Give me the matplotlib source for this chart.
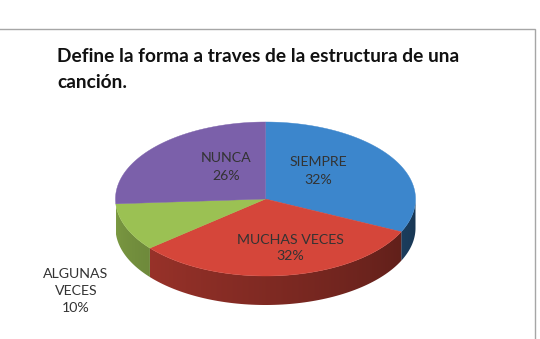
import matplotlib
matplotlib.use("Agg")
import matplotlib.pyplot as plt
import numpy as np
from matplotlib.patches import Polygon, Rectangle
from matplotlib.colors import to_rgb

# Data (clockwise from 12 o'clock)
categories = ["SIEMPRE", "MUCHAS VECES", "ALGUNAS\nVECES", "NUNCA"]
values = [32, 32, 10, 26]
colors = ["#3c86cc", "#d5463a", "#9bc153", "#7b60aa"]
title = "Define la forma a traves de la estructura de una\ncanción."

# Geometry of the 3D pie (pixel space)
CX, CY = 265.5, 199
A, B = 150, 77
DEPTH = 29

# label anchor points (pixel space)
label_pos = [(318, 171), (290, 248), (76, 291), (226, 167)]

fig = plt.figure(figsize=(5.4, 3.39), dpi=100)
ax = fig.add_axes([0, 0, 1, 1])
ax.set_xlim(0, 540)
ax.set_ylim(339, 0)
ax.axis("off")

# chart frame
ax.add_patch(Rectangle((-2, 29), 537, 320, fill=False, edgecolor="#a6a6a6", lw=1.0))

fig.text(57 / 540, 1 - 48 / 339, title, ha="left", va="top",
         fontsize=13.8, fontweight="bold", family="Lato", color="#111111",
         linespacing=1.65)


def pt(t, dy=0.0):
    r = np.radians(t)
    return CX + A * np.cos(r), CY - B * np.sin(r) + dy


total = float(sum(values))
starts = []
ang = 90.0
for v in values:
    span = 360.0 * v / total
    starts.append((ang, ang - span))
    ang -= span

# horizontal shading for the side wall: lighter at left front, darker to the right
xs = np.linspace(CX - A, CX + A, 400)
m = -np.degrees(np.arccos(np.clip((xs - CX) / A, -1, 1)))
shade = 0.40 + 0.40 * (-m / 180.0)

# sides first (front half only: angles between -180 and 0)
for (t0, t1), col in zip(starts, colors):
    base = np.array(to_rgb(col))
    lo, hi = min(t0, t1), max(t0, t1)
    for shift in (0, -360, 360):
        s0, s1 = max(lo + shift, -180), min(hi + shift, 0)
        if s1 <= s0:
            continue
        ts = np.linspace(s0, s1, 80)
        poly = [pt(t) for t in ts] + [pt(t, DEPTH) for t in ts[::-1]]
        patch = Polygon(poly, closed=True, facecolor="none", edgecolor="none")
        ax.add_patch(patch)
        img = np.clip(shade[None, :, None] * base[None, None, :], 0, 1)
        img = np.repeat(img, 2, axis=0)
        im = ax.imshow(img, extent=(CX - A, CX + A, CY + B + DEPTH + 2, CY - 10),
                       aspect="auto", interpolation="bilinear", zorder=1)
        im.set_clip_path(patch)

# top faces
for (t0, t1), col in zip(starts, colors):
    ts = np.linspace(t0, t1, 120)
    poly = [(CX, CY)] + [pt(t) for t in ts]
    ax.add_patch(Polygon(poly, closed=True, facecolor=col, edgecolor=col, lw=0.3, zorder=2))

ax.set_xlim(0, 540)
ax.set_ylim(339, 0)

# labels
for name, v, (x, y) in zip(categories, values, label_pos):
    ax.text(x, y, f"{name}\n{v}%", ha="center", va="center", fontsize=10.2,
            family="Lato", color="#333333", linespacing=1.5, zorder=3)

fig.savefig("out.png", dpi=100, facecolor="white")
